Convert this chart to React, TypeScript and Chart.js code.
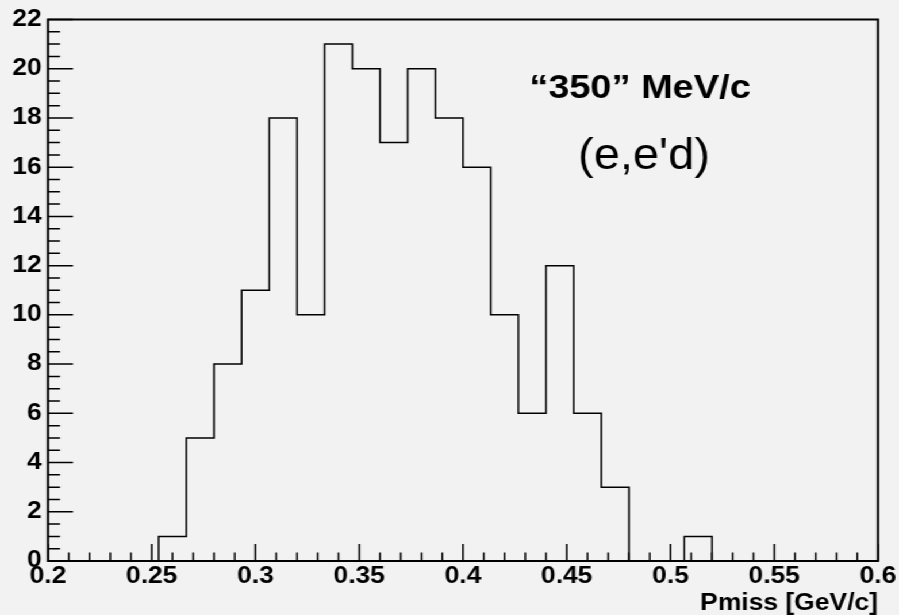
import React, { useEffect, useRef } from 'react';
import { Chart, registerables } from 'chart.js';

Chart.register(...registerables);

// ---- data ----
const X_MIN = 0.2;
const X_MAX = 0.6;
const N_BINS = 30;
const binCounts = [0, 0, 0, 0, 1, 5, 8, 11, 18, 10, 21, 20, 17, 20, 18, 16, 10, 6, 12, 6, 3, 0, 0, 1, 0, 0, 0, 0, 0, 0];
const xTickValues = [0.2, 0.25, 0.3, 0.35, 0.4, 0.45, 0.5, 0.55, 0.6];
const xTickLabels = ['0.2', '0.25', '0.3', '0.35', '0.4', '0.45', '0.5', '0.55', '0.6'];
const yTickValues = [0, 2, 4, 6, 8, 10, 12, 14, 16, 18, 20, 22];
const yTickLabels = ['0', '2', '4', '6', '8', '10', '12', '14', '16', '18', '20', '22'];
const Y_MIN = 0;
const Y_MAX = 22;
const X_MINOR_STEP = 0.01;
const Y_MINOR_STEP = 0.5;
const xAxisTitle = 'Pmiss [GeV/c]';
const annotationTitle = '\u201C350\u201D MeV/c';
const annotationReaction = "(e,e'd)";

// ---- style ----
const TARGET_W = 899;
const CANVAS_W = 782;
const H = 615;
const S = TARGET_W / CANVAS_W; // horizontal stretch
const BG = '#f2f2f2';
const FONT = '"Liberation Sans", Arial, Helvetica, sans-serif';

const rootStyle = {
  id: 'rootStyle',
  beforeDraw(chart: any) {
    const ctx = chart.ctx;
    ctx.save();
    ctx.fillStyle = BG;
    ctx.fillRect(0, 0, chart.width, chart.height);
    ctx.restore();
  },
  afterDatasetsDraw(chart: any) {
    const { ctx, chartArea: a } = chart;
    const x = chart.scales.x;
    const y = chart.scales.y;
    ctx.save();
    ctx.strokeStyle = '#000';
    ctx.lineWidth = 1.5;
    ctx.beginPath();
    const nx = Math.round((X_MAX - X_MIN) / X_MINOR_STEP);
    for (let k = 0; k <= nx; k++) {
      const px = x.getPixelForValue(X_MIN + k * X_MINOR_STEP);
      const len = k % 5 === 0 ? 17 : 8.5;
      ctx.moveTo(px, a.bottom);
      ctx.lineTo(px, a.bottom - len);
    }
    const ny = Math.round((Y_MAX - Y_MIN) / Y_MINOR_STEP);
    for (let k = 0; k <= ny; k++) {
      const py = y.getPixelForValue(Y_MIN + k * Y_MINOR_STEP);
      const len = (k % 4 === 0 ? 25 : 12) / S;
      ctx.moveTo(a.left, py);
      ctx.lineTo(a.left + len, py);
    }
    ctx.stroke();

    ctx.lineWidth = 2;
    ctx.strokeRect(a.left, a.top, a.right - a.left, a.bottom - a.top);

    // annotations
    ctx.fillStyle = '#000';
    ctx.textAlign = 'center';
    ctx.textBaseline = 'alphabetic';
    ctx.font = `bold 33px ${FONT}`;
    ctx.fillText(annotationTitle, 640 / S, 97.5);

    ctx.save();
    ctx.translate(644 / S, 169);
    ctx.scale(0.91, 1);
    ctx.font = `45px ${FONT}`;
    ctx.fillText(annotationReaction, 0, 0);
    ctx.restore();

    ctx.restore();
  },
};

export default function App() {
  const ref = useRef<HTMLCanvasElement | null>(null);

  useEffect(() => {
    if (!ref.current) return;
    const binWidth = (X_MAX - X_MIN) / N_BINS;
    const points = binCounts.map((c, i) => ({ x: X_MIN + i * binWidth, y: c }));
    points.push({ x: X_MAX, y: binCounts[binCounts.length - 1] });

    const chart = new Chart(ref.current, {
      type: 'line',
      data: {
        datasets: [
          {
            data: points,
            stepped: true,
            borderColor: '#000',
            borderWidth: 1.5,
            pointRadius: 0,
            fill: false,
          } as any,
        ],
      },
      options: {
        responsive: false,
        animation: false,
        devicePixelRatio: 1,
        layout: { padding: { left: 0, top: 19.5, right: CANVAS_W - 878 / S, bottom: 0 } },
        plugins: {
          legend: { display: false },
          tooltip: { enabled: false },
        },
        scales: {
          x: {
            type: 'linear',
            min: X_MIN,
            max: X_MAX,
            grid: { display: false, drawTicks: false },
            border: { display: false },
            afterBuildTicks: (scale: any) => {
              scale.ticks = xTickValues.map((v) => ({ value: v }));
            },
            afterFit: (scale: any) => {
              scale.height = H - 561;
            },
            ticks: {
              autoSkip: false,
              maxRotation: 0,
              minRotation: 0,
              padding: 2,
              color: '#000',
              font: { family: FONT, size: 23, weight: 'bold', lineHeight: 1.2 },
              callback: (_v: any, i: number) => xTickLabels[i],
            },
            title: {
              display: true,
              text: xAxisTitle,
              align: 'end',
              color: '#000',
              font: { family: FONT, size: 23, weight: 'bold', lineHeight: 1.0 },
              padding: 0,
            },
          },
          y: {
            type: 'linear',
            min: Y_MIN,
            max: Y_MAX,
            grid: { display: false, drawTicks: false },
            border: { display: false },
            afterBuildTicks: (scale: any) => {
              scale.ticks = yTickValues.map((v) => ({ value: v }));
            },
            afterFit: (scale: any) => {
              scale.width = 48 / S;
            },
            ticks: {
              autoSkip: false,
              padding: 5.5,
              color: '#000',
              font: { family: FONT, size: 23, weight: 'bold', lineHeight: 1.2 },
              callback: (_v: any, i: number) => yTickLabels[i],
            },
          },
        },
      } as any,
      plugins: [rootStyle],
    });
    return () => chart.destroy();
  }, []);

  return (
    <div
      style={{
        position: 'absolute',
        left: 0,
        top: 0,
        width: CANVAS_W + 'px',
        height: H + 'px',
        transform: `scaleX(${S})`,
        transformOrigin: '0 0',
        background: BG,
      }}
    >
      <canvas ref={ref} width={CANVAS_W} height={H} style={{ display: 'block', width: CANVAS_W + 'px', height: H + 'px' }} />
    </div>
  );
}
